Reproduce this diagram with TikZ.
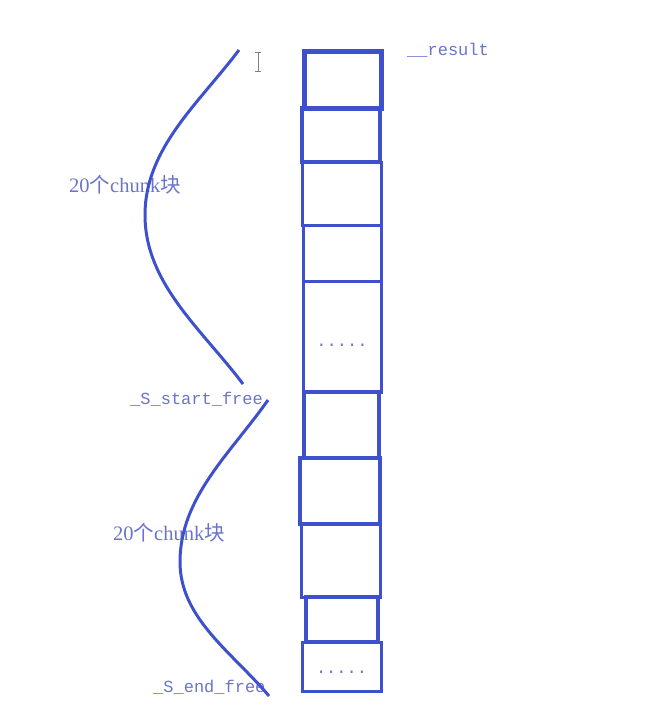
\documentclass[tikz,border=0pt]{standalone}
\usepackage{fontspec}
\setmainfont{Liberation Serif}
\setmonofont{Liberation Mono}
\newfontfamily\cjk{Noto Sans CJK SC}
\definecolor{penblue}{RGB}{62,80,204}
\definecolor{inkblue}{RGB}{105,116,206}
\begin{document}
\begin{tikzpicture}[x=1pt,y=-1pt,
  cell/.style={draw=penblue,inner sep=0pt,outer sep=0pt},
  curly/.style={draw=penblue,line width=3pt},
  lbl/.style={text=inkblue,inner sep=0pt,anchor=base west,font=\fontsize{17}{20}\ttfamily},
  cnt/.style={text=inkblue,inner sep=0pt,anchor=base west,font=\fontsize{20.5}{23}\selectfont}]
\useasboundingbox (0,0) rectangle (658,709);
\foreach \i/\l/\r/\t/\b/\w in {1/304/381/52/108/5,2/302/380/108/162/4,
  3/302/381/162/225/3,4/303/381/225/281/3,5/303/381/281/392/3,
  6/304/379/392/458/3.5,7/300/380/458/524/4,8/301/380/524/597/3,
  9/306/378/597/642/4.5,10/302/381/642/691/3}
  \node [cell,line width=\w pt,minimum width=\r-\l,minimum height=\b-\t]
    (c\i) at ({(\l+\r)/2},{(\t+\b)/2}) {};
\node [text=inkblue,font=\fontsize{17}{20}\ttfamily,inner sep=0pt] (dots1) at ([yshift=-9]c5) {.....};
\node [text=inkblue,font=\fontsize{17}{20}\ttfamily,inner sep=0pt] (dots2) at ([yshift=-6]c10) {.....};
\node [lbl] (result) at (407,56) {\_\_result};
\node [cnt] (n1) at (69,192) {20{\cjk 个}chunk{\cjk 块}};
\node [lbl] (start) at (130,404) {\_S\_start\_free};
\node [cnt] (n2) at (113,540) {20{\cjk 个}chunk{\cjk 块}};
\node [lbl] (endf) at (153,692) {\_S\_end\_free};
\coordinate (t1) at (239,50);
\coordinate (t2) at (145,215);
\coordinate (t3) at (243,384);
\coordinate (b1) at (268,400);
\coordinate (b2) at (180,562);
\coordinate (b3) at (269,696);
\draw [curly] (t1) to[out=-127,in=90,looseness=0.9] (t2) to[out=-90,in=127,looseness=0.9] (t3);
\draw [curly] (b1) to[out=-125,in=90,looseness=0.9] (b2) to[out=-90,in=130,looseness=0.9] (b3);
\draw [gray,line width=1pt] (255,53) -- (261,53) (258,53) -- (258,71) (255,71) -- (261,71);
\end{tikzpicture}
\end{document}
